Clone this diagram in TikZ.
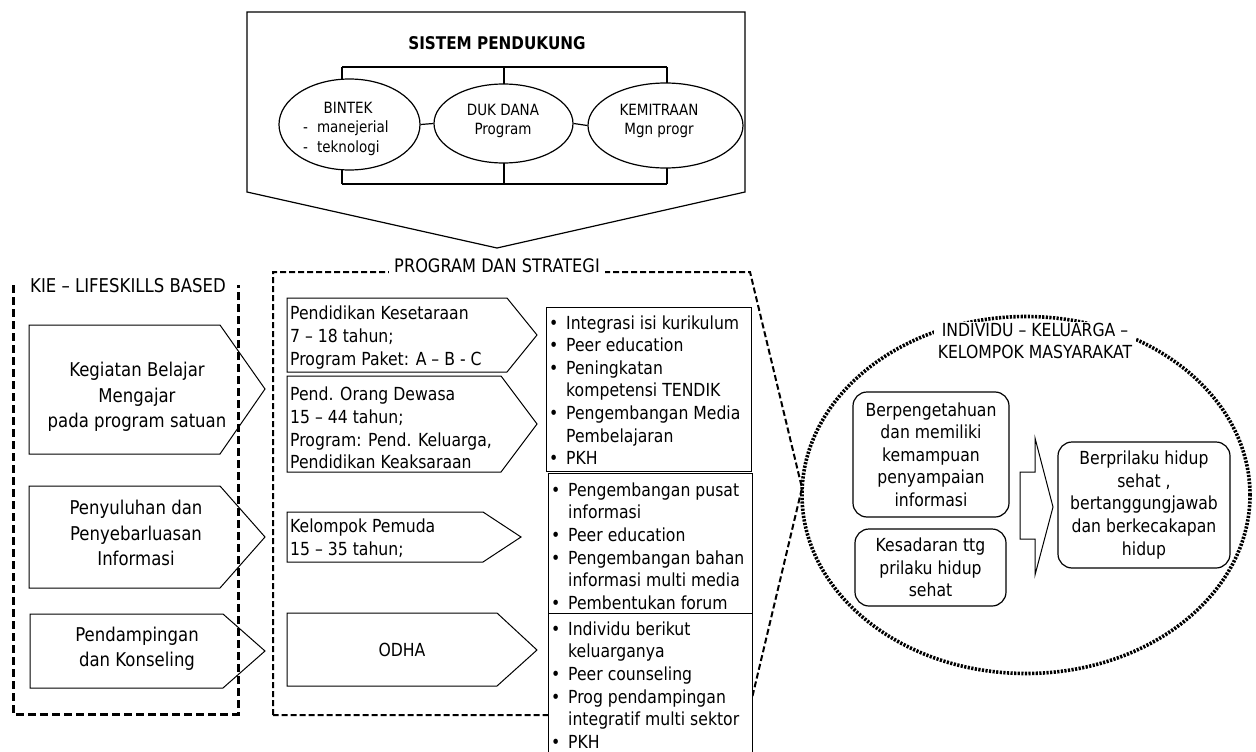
\documentclass[tikz,border=0pt]{standalone}
\usepackage{fontspec}
\setmainfont{DejaVu Sans}[FakeStretch=0.87]
\usetikzlibrary{shapes.geometric,backgrounds}
\newcommand\bitem{\makebox[17pt][l]{\textbullet}}
\newcommand\bcont{\hspace*{17pt}}
\tikzset{
  tx/.style={font=\fontsize{18}{22.6}\selectfont, inner sep=0pt},
  tbig/.style={font=\fontsize{19}{25.5}\selectfont, inner sep=0pt, align=center},
  tsmall/.style={font=\fontsize{15.5}{19.5}\selectfont, inner sep=0pt},
  ttl/.style={font=\bfseries\fontsize{17.5}{20}\selectfont, inner sep=0pt},
  pent/.style={draw, line width=1pt},
  topell/.style={draw, ellipse, line width=1.2pt, fill=white, inner sep=0pt},
  kiebox/.style={draw, line width=3pt, dash pattern=on 8pt off 4pt},
  progbox/.style={draw, line width=2pt, dash pattern=on 6pt off 3pt},
  listbox/.style={draw, line width=1pt, fill=white},
  comm/.style={draw, ellipse, line width=3.6pt, dash pattern=on 2.2pt off 1.4pt, inner sep=0pt},
  rbox/.style={draw, rounded corners=14pt, line width=1.2pt, align=center, font=\fontsize{18}{22.6}\selectfont, inner sep=0pt},
}
\begin{document}
\begin{tikzpicture}[x=1pt,y=-1pt]
\useasboundingbox (0,0) rectangle (1256,752);

% ---------- SISTEM PENDUKUNG ----------
\draw[pent, line width=1.2pt] (247,12) -- (745,12) -- (745,192) -- (497,248) -- (247,192) -- cycle;
\node[ttl] (title) at (497,43) {SISTEM PENDUKUNG};

\node[topell, minimum width=141, minimum height=91] (bintek) at (349.5,124.5) {};
\node[topell, minimum width=139, minimum height=79] (duk) at (503.5,123.5) {};
\node[topell, minimum width=155, minimum height=85] (kemit) at (665.5,125.5) {};

\coordinate (tl) at (342,67); \coordinate (tm) at (504,67); \coordinate (tr) at (667,67);
\coordinate (bl) at (342,184); \coordinate (bm) at (504,184); \coordinate (br) at (667,184);
\begin{pgfonlayer}{background}
\draw[line width=1.2pt] (tl) -- (tr);
\draw[line width=1.2pt] (bl) -- (br);
\draw[line width=1.2pt] (tl) -- (tl |- bintek.center);
\draw[line width=1.2pt] (tm) -- (tm |- duk.center);
\draw[line width=1.2pt] (tr) -- (tr |- kemit.center);
\draw[line width=1.2pt] (bl) -- (bl |- bintek.center);
\draw[line width=1.2pt] (bm) -- (bm |- duk.center);
\draw[line width=1.2pt] (br) -- (br |- kemit.center);
\end{pgfonlayer}
\draw[line width=1.2pt] (bintek.east) -- (duk.west);
\draw[line width=1.2pt] (duk.east) -- (kemit.west);

\node[tsmall] (bintekA) at (348,108) {BINTEK};
\node[tsmall, anchor=west] (bintekB) at (303,128) {-\hspace{9pt}manejerial};
\node[tsmall, anchor=west] (bintekC) at (303,148) {-\hspace{9pt}teknologi};
\node[tsmall, align=center] (dukT) at (503,121) {DUK DANA\\Program};
\node[tsmall, align=center] (kemitT) at (659,121) {KEMITRAAN\\Mgn progr};

% ---------- KIE - LIFESKILLS BASED ----------
\draw[kiebox] (13,285) -- (13,714) -- (238,714) -- (238,285);
\node[tx, font=\fontsize{19}{22}\selectfont, anchor=west] (kieT) at (30,286) {KIE – LIFESKILLS BASED};

\draw[pent] (29,325) -- (220,325) -- (265,389) -- (220,454) -- (29,454) -- cycle;
\draw[pent] (29,486) -- (220,486) -- (265,537) -- (220,588) -- (29,588) -- cycle;
\draw[pent] (30,614) -- (223,614) -- (265,651) -- (223,688) -- (30,688) -- cycle;
\node[tbig] (kbm) at (137,397) {Kegiatan Belajar\\Mengajar\\pada program satuan};
\node[tbig] (peny) at (136,533) {Penyuluhan dan\\Penyebarluasan\\Informasi};
\node[tbig] (pend) at (137,649) {Pendampingan\\dan Konseling};

% ---------- PROGRAM DAN STRATEGI ----------
\draw[progbox] (273,715) -- (273,272) -- (750,272) -- (802,488) -- (748,715) -- cycle;
\node[tx, font=\fontsize{18.6}{22}\selectfont, fill=white, inner xsep=5pt, inner ysep=3pt] (progT) at (497,266) {PROGRAM DAN STRATEGI};

\draw[pent] (287,298) -- (507,298) -- (537,335) -- (507,372) -- (287,372) -- cycle;
\draw[pent] (287,376) -- (501,376) -- (537,424) -- (501,472) -- (287,472) -- cycle;
\draw[pent] (287,512) -- (483,512) -- (521,537) -- (483,562) -- (287,562) -- cycle;
\draw[pent] (287,613) -- (497,613) -- (537,650) -- (497,686) -- (287,686) -- cycle;
\node[tx, anchor=west, align=left] (pa) at (290,337.5) {Pendidikan Kesetaraan\\7 – 18 tahun;\\Program Paket: A – B - C};
\node[tx, anchor=west, align=left] (pb) at (290,428) {Pend. Orang Dewasa\\15 – 44 tahun;\\Program: Pend. Keluarga,\\Pendidikan Keaksaraan};
\node[tx, anchor=west, align=left] (pc) at (290,538.5) {Kelompok Pemuda\\15 – 35 tahun;};
\node[tx] (pd) at (402,650) {ODHA};

\node[listbox, anchor=north west, minimum width=205, minimum height=164] (l1) at (546,307) {};
\node[listbox, anchor=north west, minimum width=204, minimum height=140] (l2) at (548,473) {};
\node[listbox, anchor=north west, minimum width=204, minimum height=150] (l3) at (548,613) {};
\node[tx, anchor=west, align=left] (l1t) at (549,390) {\bitem Integrasi isi kurikulum\\\bitem Peer education\\\bitem Peningkatan\\\bcont kompetensi TENDIK\\\bitem Pengembangan Media\\\bcont Pembelajaran\\\bitem PKH};
\node[tx, anchor=west, align=left] (l2t) at (551,546) {\bitem Pengembangan pusat\\\bcont informasi\\\bitem Peer education\\\bitem Pengembangan bahan\\\bcont informasi multi media\\\bitem Pembentukan forum};
\node[tx, anchor=west, align=left] (l3t) at (551,685) {\bitem Individu berikut\\\bcont keluarganya\\\bitem Peer counseling\\\bitem Prog pendampingan\\\bcont integratif multi sektor\\\bitem PKH};

% ---------- INDIVIDU - KELUARGA - KELOMPOK MASYARAKAT ----------
\node[comm, minimum width=448, minimum height=357] (commE) at (1026,495) {};
\node[tx, fill=white, align=center, inner xsep=4pt, inner ysep=1pt] (commT) at (1035,341) {INDIVIDU – KELUARGA –\\KELOMPOK MASYARAKAT};

\node[rbox, minimum width=156, minimum height=125] (know) at (931,454.5) {Berpengetahuan\\dan memiliki\\kemampuan\\penyampaian\\informasi};
\node[rbox, minimum width=151, minimum height=77] (aware) at (930.5,567.5) {Kesadaran ttg\\prilaku hidup\\sehat};
\node[rbox, minimum width=172, minimum height=126] (behav) at (1144,505) {Berprilaku hidup\\sehat ,\\bertanggungjawab\\dan berkecakapan\\hidup};
\draw[line width=1pt] (1020,472) -- (1035,472) -- (1035,438) -- (1053,507) -- (1035,575) -- (1035,539) -- (1020,539) -- cycle;
\end{tikzpicture}
\end{document}
